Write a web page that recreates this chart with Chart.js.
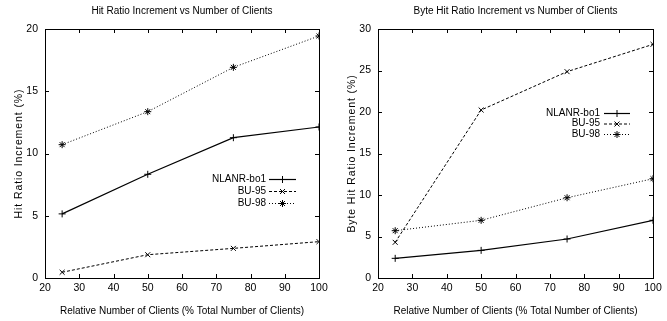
<!DOCTYPE html>
<html>
<head>
<meta charset="utf-8">
<script src="https://cdn.jsdelivr.net/npm/chart.js@4/dist/chart.umd.min.js"></script>
<style>
  html, body { margin: 0; padding: 0; background: #fff; }
  .box { position: absolute; top: 0; height: 321px; }
</style>
</head>
<body>
<div class="box" style="left:0;width:333px"><canvas id="hitChart"></canvas></div>
<div class="box" style="left:333px;width:334px"><canvas id="byteChart"></canvas></div>
<script>
// data
const clients = [25, 50, 75, 100];
const seriesNames = ["NLANR-bo1", "BU-95", "BU-98"];

const hitNlanr = [5.15, 8.33, 11.27, 12.13];
const hitBu95 = [0.46, 1.87, 2.38, 2.92];
const hitBu98 = [10.71, 13.36, 16.92, 19.44];

const byteNlanr = [2.37, 3.33, 4.7, 6.95];
const byteBu95 = [4.3, 20.24, 24.86, 28.15];
const byteBu98 = [5.7, 6.95, 9.67, 11.96];

const xTicks = [20, 30, 40, 50, 60, 70, 80, 90, 100];

const NARROW = "'Liberation Sans Narrow', 'Liberation Sans', Arial, sans-serif";
const SANS = "'Liberation Sans', Arial, sans-serif";

Chart.defaults.color = "#000";
Chart.defaults.font.family = NARROW;

const styles = [
    { pointStyle: "cross", dash: [], width: 1.2 },
    { pointStyle: "crossRot", dash: [3, 2], width: 1 },
    { pointStyle: "star", dash: [1, 2], width: 1 }
];

function makeSets(values) {
    return values.map((vals, i) => ({
        label: seriesNames[i],
        data: clients.map((c, j) => ({ x: c, y: vals[j] })),
        borderColor: "#000",
        backgroundColor: "#000",
        borderWidth: styles[i].width,
        borderDash: styles[i].dash,
        pointStyle: styles[i].pointStyle,
        pointRadius: 3.5,
        pointBorderWidth: 1,
        pointBorderColor: "#000",
        tension: 0
    }));
}

// box, inward ticks on all sides, titles and the legend inside the plot
const framePlugin = {
    id: "frame",
    afterDraw(chart, args, opts) {
        const ctx = chart.ctx;
        const a = chart.chartArea;
        const xs = chart.scales.x;
        const ys = chart.scales.y;
        ctx.save();
        ctx.strokeStyle = "#000";
        ctx.lineWidth = 1;
        ctx.setLineDash([]);
        ctx.strokeRect(Math.round(a.left) + 0.5, Math.round(a.top) + 0.5,
            Math.round(a.right - a.left), Math.round(a.bottom - a.top));
        ctx.beginPath();
        xs.ticks.forEach(t => {
            const px = Math.round(xs.getPixelForValue(t.value)) + 0.5;
            ctx.moveTo(px, a.bottom); ctx.lineTo(px, a.bottom - 4);
            ctx.moveTo(px, a.top); ctx.lineTo(px, a.top + 4);
        });
        ys.ticks.forEach(t => {
            const py = Math.round(ys.getPixelForValue(t.value)) + 0.5;
            ctx.moveTo(a.left, py); ctx.lineTo(a.left + 4, py);
            ctx.moveTo(a.right, py); ctx.lineTo(a.right - 4, py);
        });
        ctx.stroke();

        // title
        ctx.font = "10px " + NARROW;
        ctx.fillStyle = "#000";
        ctx.textAlign = "center";
        ctx.textBaseline = "middle";
        ctx.fillText(opts.title, (a.left + a.right) / 2, 11);

        // y axis title, rotated and letter spaced
        ctx.save();
        ctx.translate(19, (a.top + a.bottom) / 2);
        ctx.rotate(-Math.PI / 2);
        ctx.font = "10.5px " + SANS;
        ctx.letterSpacing = "0.9px";
        ctx.fillText(opts.yTitle, 0, 0);
        ctx.restore();

        // legend
        const L = opts.legend;
        ctx.font = "10px " + NARROW;
        chart.data.datasets.forEach((ds, i) => {
            const y = L.y + i * L.step;
            ctx.textAlign = "right";
            ctx.fillText(ds.label, L.textEnd, y);
            ctx.beginPath();
            ctx.setLineDash(ds.borderDash);
            ctx.lineWidth = ds.borderWidth;
            ctx.moveTo(L.x1, y + 0.5);
            ctx.lineTo(L.x2, y + 0.5);
            ctx.stroke();
            ctx.setLineDash([]);
            ctx.lineWidth = 1;
            Chart.helpers.drawPoint(ctx, {
                pointStyle: ds.pointStyle, radius: 3.5, rotation: 0, borderWidth: 1
            }, (L.x1 + L.x2) / 2, y + 0.5);
        });
        ctx.restore();
    }
};

function makeChart(id, title, yTitle, yMax, values, legend) {
    return new Chart(document.getElementById(id), {
        type: "line",
        data: { datasets: makeSets(values) },
        options: {
            responsive: true,
            maintainAspectRatio: false,
            animation: false,
            layout: { padding: { top: 29, right: 14, left: 0, bottom: 0 } },
            plugins: {
                legend: { display: false },
                tooltip: { enabled: false },
                frame: { title: title, yTitle: yTitle, legend: legend }
            },
            scales: {
                x: {
                    type: "linear",
                    min: 20,
                    max: 100,
                    afterBuildTicks: s => { s.ticks = xTicks.map(v => ({ value: v })); },
                    afterFit: s => { s.height = 43; },
                    grid: { display: false, drawTicks: false },
                    border: { display: false },
                    ticks: { padding: 4, font: { size: 10.5, family: NARROW } },
                    title: {
                        display: true,
                        text: "Relative Number of Clients (% Total Number of Clients)",
                        font: { size: 10, family: NARROW },
                        padding: { top: 0, bottom: 4 }
                    }
                },
                y: {
                    min: 0,
                    max: yMax,
                    afterFit: s => { s.width = 45; },
                    grid: { display: false, drawTicks: false },
                    border: { display: false },
                    ticks: { stepSize: 5, padding: 7, font: { size: 10.5, family: NARROW } },
                    title: { display: false }
                }
            }
        },
        plugins: [framePlugin]
    });
}

makeChart("hitChart", "Hit Ratio Increment vs Number of Clients",
    "Hit Ratio Increment (%)", 20,
    [hitNlanr, hitBu95, hitBu98],
    { textEnd: 266, x1: 269, x2: 296, y: 179, step: 12 });

makeChart("byteChart", "Byte Hit Ratio Increment vs Number of Clients",
    "Byte Hit Ratio Increment (%)", 30,
    [byteNlanr, byteBu95, byteBu98],
    { textEnd: 267, x1: 271, x2: 297, y: 113, step: 10.5 });
</script>
</body>
</html>
